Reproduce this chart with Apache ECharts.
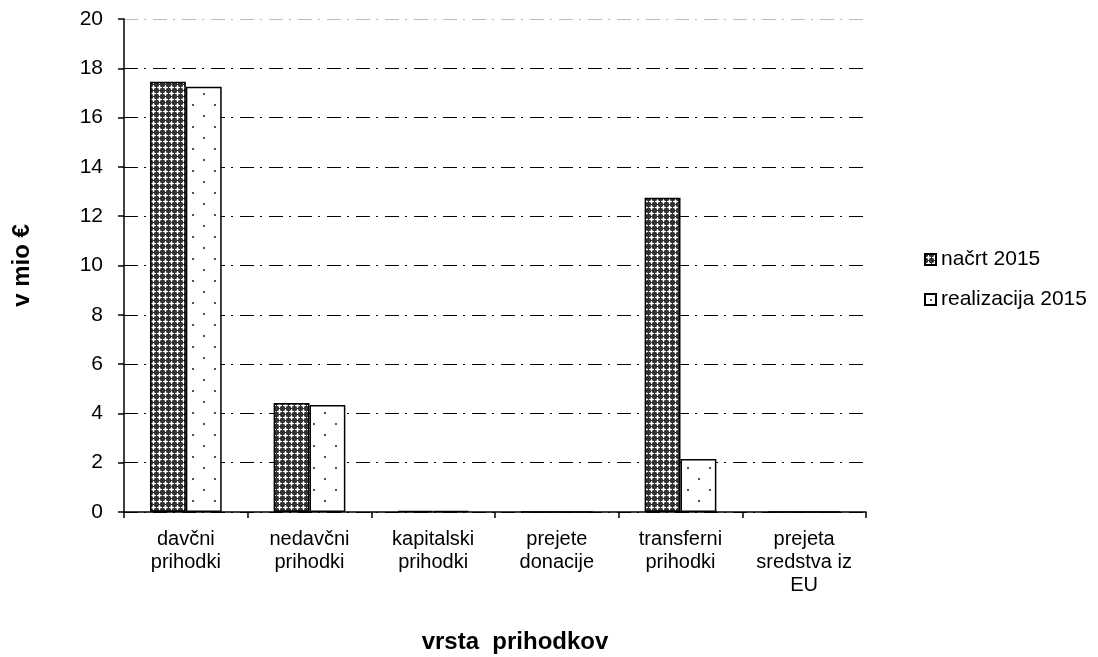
<!DOCTYPE html>
<html>
<head>
<meta charset="utf-8">
<script src="https://cdn.jsdelivr.net/npm/echarts@6/dist/echarts.min.js"></script>
<style>
  html, body { margin: 0; padding: 0; background: #fff; }
  #chart { width: 1098px; height: 657px; }
</style>
</head>
<body>
<div id="chart"></div>
<script>
// kategorije in vrednosti (v mio €)
const categories = ['davčni\nprihodki', 'nedavčni\nprihodki', 'kapitalski\nprihodki', 'prejete\ndonacije', 'transferni\nprihodki', 'prejeta\nsredstva iz\nEU']
const nacrt2015 = [17.45, 4.42, 0.05, 0, 12.75, 0]
const realizacija2015 = [17.25, 4.34, 0.04, 0, 2.15, 0]
const yTicks = [0, 20, 2]

// vzorec za načrt - šrafiranje (beli križci na temni podlagi)
function crossPattern() {
  const c = document.createElement('canvas')
  c.width = 6
  c.height = 6
  const ctx = c.getContext('2d')
  ctx.fillStyle = '#333333'
  ctx.fillRect(0, 0, 6, 6)
  ctx.fillStyle = '#9a9a9a'
  ctx.fillRect(2, 2, 3, 3)
  ctx.fillStyle = '#ffffff'
  ctx.fillRect(3, 1, 1, 5)
  ctx.fillRect(1, 3, 5, 1)
  return c
}

// vzorec za realizacijo - redke pike
function dotPattern() {
  const c = document.createElement('canvas')
  c.width = 22
  c.height = 22
  const ctx = c.getContext('2d')
  ctx.fillStyle = '#ffffff'
  ctx.fillRect(0, 0, 22, 22)
  ctx.fillStyle = '#555555'
  ctx.fillRect(5, 5, 2, 2)
  ctx.fillRect(16, 16, 2, 2)
  return c
}

// zgornja mrežna črta je svetlejša
const gridColors = ['#000', '#000', '#000', '#000', '#000', '#000', '#000', '#000', '#000', '#000', '#bbb']

const font = 'Liberation Sans, Arial, sans-serif'
const chart = echarts.init(document.getElementById('chart'))
chart.setOption({
  animation: false,
  textStyle: { fontFamily: font },
  grid: { left: 124, right: 232, top: 19, bottom: 145, outerBoundsMode: 'none' },
  legend: {
    orient: 'vertical',
    left: 919,
    top: 244,
    itemGap: 19,
    itemWidth: 11,
    itemHeight: 11,
    icon: 'rect',
    textStyle: { fontSize: 21, color: '#000', fontFamily: font },
    data: ['načrt 2015', 'realizacija 2015']
  },
  xAxis: {
    type: 'category',
    data: categories,
    name: 'vrsta  prihodkov',
    nameLocation: 'middle',
    nameGap: 118,
    nameTextStyle: { fontSize: 24, fontWeight: 'bold', color: '#000', fontFamily: font, padding: [0, 0, 0, 40] },
    axisLine: { lineStyle: { color: '#000', width: 1.5 } },
    axisTick: { show: true, length: 6, lineStyle: { color: '#000', width: 1.5 } },
    axisLabel: {
      interval: 0,
      fontSize: 20,
      lineHeight: 23,
      color: '#000',
      margin: 16,
      fontFamily: font,
      verticalAlign: 'top'
    }
  },
  yAxis: {
    type: 'value',
    min: yTicks[0],
    max: yTicks[1],
    interval: yTicks[2],
    name: 'v mio €',
    nameLocation: 'middle',
    nameGap: 90,
    nameTextStyle: { fontSize: 24, fontWeight: 'bold', color: '#000', fontFamily: font },
    axisLine: { show: true, lineStyle: { color: '#000', width: 1.5 } },
    axisTick: { show: true, length: 6, lineStyle: { color: '#000', width: 1.5 } },
    axisLabel: { fontSize: 21, color: '#000', margin: 21, fontFamily: font },
    splitLine: {
      lineStyle: { color: gridColors, width: 1.2, type: [14, 6, 2, 7] }
    }
  },
  series: [
    {
      name: 'načrt 2015',
      type: 'bar',
      data: nacrt2015,
      barGap: '0%',
      barCategoryGap: '42%',
      itemStyle: {
        color: { image: crossPattern(), repeat: 'repeat' },
        borderColor: '#000',
        borderWidth: 1.5
      }
    },
    {
      name: 'realizacija 2015',
      type: 'bar',
      data: realizacija2015,
      itemStyle: {
        color: { image: dotPattern(), repeat: 'repeat' },
        borderColor: '#000',
        borderWidth: 1.5
      }
    }
  ]
})
</script>
</body>
</html>
